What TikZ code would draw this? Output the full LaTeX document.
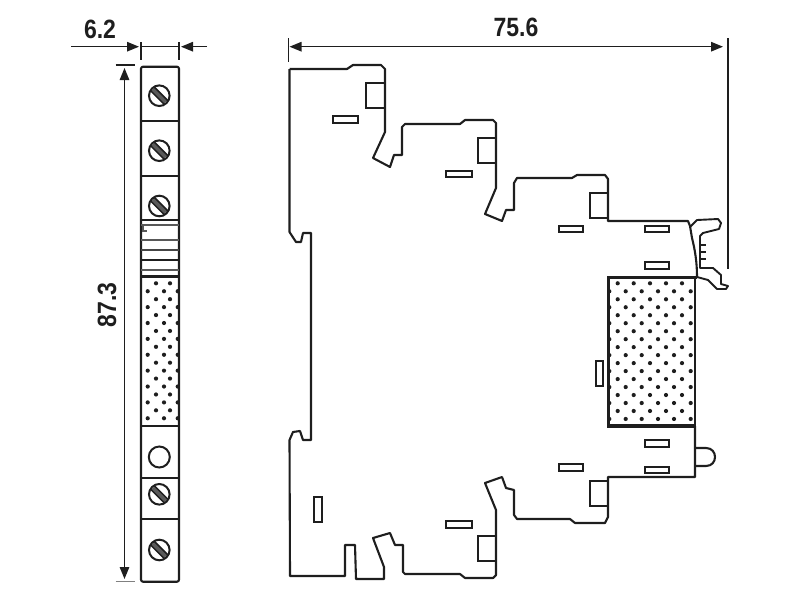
\documentclass[tikz,border=0pt]{standalone}
\usepackage{fontspec}
\setmainfont{Liberation Sans}
\usetikzlibrary{arrows.meta}

\definecolor{ink}{HTML}{1E1E1E}

\tikzset{
    outline/.style={draw=ink, line width=2.1pt, line join=round},
    slot/.style={draw=ink, line width=1.6pt},
    dimline/.style={draw=ink, line width=1.3pt, -{Triangle[length=12pt,width=9.5pt]}},
    bothdim/.style={draw=ink, line width=1.3pt, {Triangle[length=12pt,width=9.5pt]}-{Triangle[length=12pt,width=9.5pt]}},
    dimtick/.style={draw=ink, line width=1.3pt},
    dimtext/.style={font=\bfseries\fontsize{23}{23}\selectfont, text=ink, inner sep=0pt},
    screwhead/.pic={
        \fill[gray!70!black] (-9,-2.6) rectangle (9,2.6);
        \draw[ink, line width=1.5pt] (-9.6,-2.6) -- (9.6,-2.6) (-9.6,2.6) -- (9.6,2.6);
        \draw[ink, line width=2pt] (0,0) circle (10.3);
    }
}

\begin{document}
\begin{tikzpicture}[x=1pt, y=-1pt]
    \useasboundingbox (0,0) rectangle (800,600);

    % dimensions
    \node[dimtext, yscale=1.15] (widthlabel) at (100,29) {6.2};
    \node[dimtext, yscale=1.15] (depthlabel) at (516,27) {75.6};
    \node[dimtext, rotate=90, yscale=1.15, xscale=1] (heightlabel) at (107,305) {87.3};

    \coordinate (wl) at (71,46.7);
    \coordinate (wa) at (139,46.7);
    \coordinate (wb) at (181,46.7);
    \coordinate (wr) at (207,46.7);
    \draw[dimline] (wl) -- (wa);
    \draw[dimline] (wr) -- (wb);
    \draw[dimtick] (141,42) -- (141,60) (179,42) -- (179,60);
    \draw[dimtick] (141,46.7) -- (179,46.7);

    \coordinate (ha) at (124.5,68);
    \coordinate (hb) at (124.5,579);
    \draw[bothdim] (ha) -- (hb);
    \draw[dimtick] (115.5,65) -- (135,65);
    \draw[dimtick, draw=gray] (115.5,581.7) -- (135,581.7);

    \coordinate (da) at (289.5,46.7);
    \coordinate (db) at (723,46.7);
    \draw[bothdim] (da) -- (db);
    \draw[dimtick] (288.5,38) -- (288.5,62) (728,38) -- (728,269);

    % narrow view
    \draw[outline, rounded corners=2pt] (141,66.7) rectangle (179,581.7);
    \draw[outline] (141,120.7) -- (179,120.7) (141,175.7) -- (179,175.7)
        (141,478) -- (179,478) (141,519) -- (179,519);
    \draw[slot] (141,220) -- (179,220);
    \draw[slot, draw=gray!60!ink] (141,225) -- (179,225) (141,240) -- (179,240) (143,226) -- (143,231) -- (147,231) (141,270) -- (179,270);
    \draw[slot, line width=2.6pt, draw=gray!40!ink] (141,250) -- (179,250);
    \draw[slot, line width=2.8pt] (141,260) -- (179,260) (141,276.7) -- (179,276.7) (141,426) -- (179,426);
    \foreach \y in {95.7,150.7,206,494.3,550}
        \pic[rotate=-45] at (159.3,\y) {screwhead};
    \node[draw=ink, line width=2pt, circle, minimum size=21pt, inner sep=0pt] (lampring) at (159.3,457) {};
    \foreach \k in {0,...,17} {
        \pgfmathsetmacro\yy{283.3+7.94*\k}
        \ifodd\k
            \foreach \x in {147.7,164,177.7} \fill[ink] (\x,\yy) circle (2.1);
        \else
            \foreach \x in {156,170} \fill[ink] (\x,\yy) circle (2.1);
        \fi
    }

    % side view
    \draw[outline] (289.5,69) -- (347,69) -- (353,65) -- (381,65) -- (385,69) -- (385,132) -- (373,158)
        -- (390,167) -- (394,155) -- (402,155) -- (402,127) -- (405,124) -- (460,124) -- (465,120)
        -- (493,120) -- (496,123) -- (496,188) -- (485,214) -- (502,221) -- (506,210) -- (514,210)
        -- (514,183) -- (517,178) -- (572,178) -- (577,175) -- (605,175) -- (608,179) -- (608,221)
        -- (688,221) -- (690,226) -- (692,238) .. controls (695,250) and (697,262) .. (697,277);
    \draw[outline] (695,426) -- (695,477) -- (608,477) -- (608,517) -- (605,523) -- (575,523) -- (570,519)
        -- (517,519) -- (514,515) -- (514,490) -- (506,488) -- (502,477) -- (485,483) -- (496,510)
        -- (496,575) -- (493,578) -- (465,578) -- (460,574) -- (405,574) -- (403,572) -- (403,545)
        -- (395,545) -- (390,533) -- (373,538) -- (384,567) -- (384,579) -- (356,579) -- (355,545)
        -- (345,545) -- (345,576) -- (290,576) -- (289.5,440) -- (293,432) -- (300,431) -- (303,440)
        -- (311,440) -- (311,233) -- (303,233) -- (301,242) -- (296,242) -- (289.5,232) -- (289.5,69);
    % clip at the top right
    \draw[outline, line width=1.9pt] (690,227) -- (697,220) -- (718,219) -- (721,223) -- (719,229)
        -- (703,233) -- (700,236) -- (700,268) -- (713,268) -- (721,275) -- (721,284) -- (728,286)
        -- (726,289) -- (717,289) -- (708,280) -- (697,277);
    \draw[ink, line width=2.6pt] (700,245) -- (706,245) (700,252) -- (706,252) (700,259) -- (706,259);
    % lamp
    \draw[outline] (695,448) -- (706,448) .. controls (718,448) and (718,466) .. (706,466) -- (695,466);

    % module
    \draw[outline, line width=3pt] (607,277) -- (697,277);
    \draw[outline, line width=3pt] (608,277) -- (608,426);
    \draw[outline, line width=2.2pt] (695,277) -- (695,426);
    \draw[outline, line width=3.6pt] (607,426) -- (696,426);
    \foreach \k in {0,...,17} {
        \pgfmathsetmacro\yy{283.3+7.98*\k}
        \ifodd\k
            \foreach \x in {609.3,625.7,641.7,658,674,690.7} \fill[ink] (\x,\yy) circle (2.1);
        \else
            \foreach \x in {617.7,633.7,650,666,682} \fill[ink] (\x,\yy) circle (2.1);
        \fi
    }

    % squares
    \foreach \xa/\ya/\xb/\yb in {366/83/385/108, 478/138/496/163, 590/193/608/218,
            590/481/608/506, 478/536/496/561}
        \draw[slot] (\xa,\ya) rectangle (\xb,\yb);

    % contact slots
    \foreach \xa/\ya/\xb/\yb in {333/116/358/123, 446/171/472/177, 559/226/583/232, 645/226/669/232,
            645/262/669/269, 596/361/603/386, 645/440/669/447, 645/467/669/473, 559/464/583/471,
            314/497/322/522, 446/521/472/528}
        \draw[slot] (\xa,\ya) rectangle (\xb,\yb);
\end{tikzpicture}
\end{document}
